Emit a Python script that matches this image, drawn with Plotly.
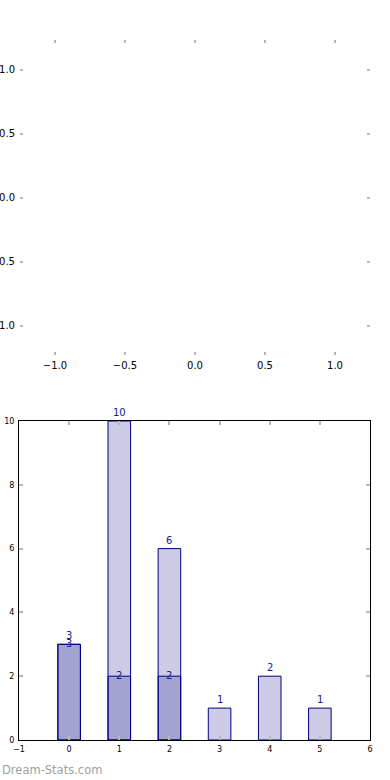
import plotly.graph_objects as go

# Data
categories = [0, 1, 2, 3, 4, 5]
series_light = [3, 10, 6, 1, 2, 1]
series_dark = [3, 2, 2, 0, 0, 0]
top_ticks = [-1.0, -0.5, 0.0, 0.5, 1.0]
bottom_xticks = [-1, 0, 1, 2, 3, 4, 5, 6]
bottom_yticks = [0, 2, 4, 6, 8, 10]

W, H = 390, 780
FONT = "DejaVu Sans"
BAR_FILL = "rgba(0,0,128,0.2)"
EDGE = "navy"
TICKC = "#b8b8b8"
LABELC = "#1a1a8c"

fig = go.Figure()

# bars (both series, overlaid, translucent)
for vals in (series_light, series_dark):
    xs = [c for c, v in zip(categories, vals) if v > 0]
    ys = [v for v in vals if v > 0]
    fig.add_trace(go.Bar(
        x=xs, y=ys, width=0.45,
        marker=dict(color=BAR_FILL, line=dict(color=EDGE, width=1)),
        xaxis="x2", yaxis="y2", showlegend=False, hoverinfo="skip",
    ))

annotations = []
for c, v in zip(categories, series_light):
    annotations.append(dict(x=c, y=v, xref="x2", yref="y2", text=str(v),
                            showarrow=False, yanchor="bottom", yshift=1,
                            font=dict(family=FONT, size=10, color=LABELC)))
for c, v in zip(categories, series_dark):
    if v > 0:
        annotations.append(dict(x=c, y=v, xref="x2", yref="y2", text=str(v),
                                showarrow=False, yanchor="middle", yshift=1,
                                font=dict(family=FONT, size=10, color=LABELC)))

annotations.append(dict(x=0, y=(H - 770) / H, xref="paper", yref="paper",
                        text="Dream-Stats.com", showarrow=False,
                        xanchor="left", yanchor="middle",
                        font=dict(family=FONT, size=11.5, color="#a0a0a0")))

# invisible trace to make top axes exist
fig.add_trace(go.Scatter(x=[None], y=[None], xaxis="x", yaxis="y",
                         showlegend=False, hoverinfo="skip"))

top_labels = [f"{t:.1f}".replace("-", "\u2212") for t in top_ticks]

fig.update_layout(
    width=W, height=H,
    margin=dict(l=0, r=0, t=0, b=0),
    paper_bgcolor="white", plot_bgcolor="white",
    barmode="overlay",
    font=dict(family=FONT, color="black"),
    xaxis=dict(domain=[20 / W, 370 / W], range=[-1.25, 1.25],
               tickvals=top_ticks, ticktext=top_labels,
               showgrid=False, zeroline=False, showline=False,
               ticks="inside", ticklen=3, tickwidth=1.5, tickcolor=TICKC,
               mirror="allticks", anchor="y", automargin=False,
               ticklabelstandoff=3,
               tickfont=dict(family=FONT, size=10, color="black")),
    yaxis=dict(domain=[1 - 355 / H, 1 - 40 / H], range=[-1.23, 1.234],
               tickvals=top_ticks, ticktext=top_labels,
               showgrid=False, zeroline=False, showline=False,
               ticks="inside", ticklen=3, tickwidth=1.5, tickcolor=TICKC,
               mirror="allticks", anchor="x", automargin=False,
               ticklabelstandoff=4,
               tickfont=dict(family=FONT, size=10, color="black")),
    xaxis2=dict(domain=[19 / W, 370 / W], range=[-1, 6],
                tickvals=bottom_xticks,
                showgrid=False, zeroline=False,
                showline=True, linecolor="black", linewidth=1, mirror="allticks",
                ticks="inside", ticklen=4, tickwidth=1.5, tickcolor=TICKC,
                anchor="y2", automargin=False,
                ticklabelstandoff=1,
                tickfont=dict(family=FONT, size=8, color="black")),
    yaxis2=dict(domain=[1 - 740 / H, 1 - 421 / H], range=[0, 10],
                tickvals=bottom_yticks,
                showgrid=False, zeroline=False,
                showline=True, linecolor="black", linewidth=1, mirror="allticks",
                ticks="inside", ticklen=4, tickwidth=1.5, tickcolor=TICKC,
                anchor="x2", automargin=False,
                ticklabelstandoff=2,
                tickfont=dict(family=FONT, size=8, color="black")),
    annotations=annotations,
)

fig.write_html("out.html", config={"displayModeBar": False},
               post_script="document.body.style.margin='0';document.body.style.padding='0';")
